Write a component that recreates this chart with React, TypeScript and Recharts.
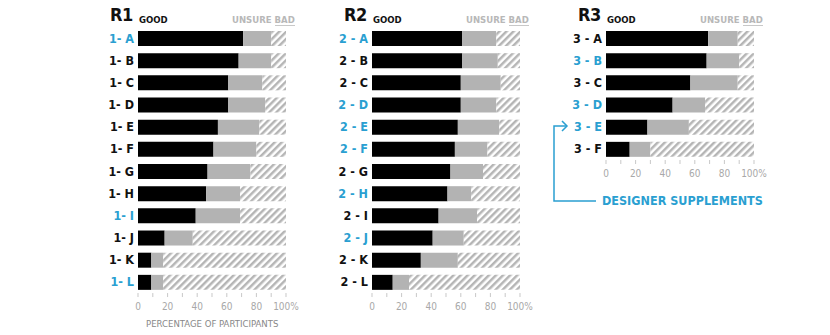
import React from 'react';
import { BarChart, Bar, XAxis, YAxis } from 'recharts';

// R1
const r1Categories = ['1- A', '1- B', '1- C', '1- D', '1- E', '1- F', '1- G', '1- H', '1- I', '1- J', '1- K', '1- L'];
const r1Good = [71, 68, 61, 61, 54, 51, 47, 46, 39, 18, 9, 9];
const r1Unsure = [19, 22, 23, 25, 28, 29, 29, 23, 30, 19, 8, 8];
const r1Bad = [10, 10, 16, 14, 18, 20, 24, 31, 31, 63, 83, 83];
const r1Blue = ['1- A', '1- I', '1- L'];

// R2
const r2Categories = ['2 - A', '2 - B', '2 - C', '2 - D', '2 - E', '2 - F', '2 - G', '2 - H', '2 - I', '2 - J', '2 - K', '2 - L'];
const r2Good = [61, 61, 60, 60, 58, 56, 53, 51, 45, 41, 33, 14];
const r2Unsure = [23, 24, 27, 24, 28, 22, 22, 16, 26, 21, 25, 11];
const r2Bad = [16, 15, 13, 16, 14, 22, 25, 33, 29, 38, 42, 75];
const r2Blue = ['2 - A', '2 - D', '2 - E', '2 - F', '2 - H', '2 - J'];

// R3
const r3Categories = ['3 - A', '3 - B', '3 - C', '3 - D', '3 - E', '3 - F'];
const r3Good = [69, 68, 57, 45, 28, 16];
const r3Unsure = [20, 22, 32, 22, 28, 14];
const r3Bad = [11, 10, 11, 33, 44, 70];
const r3Blue = ['3 - B', '3 - D', '3 - E'];

const xTicks = [0, 10, 20, 30, 40, 50, 60, 70, 80, 90, 100];

const BLUE = '#2a9fd1';
const GRAY = '#b3b3b3';
const FONT = "'DejaVu Sans Condensed', 'DejaVu Sans', sans-serif";
const ROW = 22.17;

const Panel = ({ left, title, cats, good, unsure, bad, blue, barStart }: any) => {
    const data = cats.map((c: string, i: number) => ({
        name: c,
        good: good[i],
        unsure: unsure[i],
        bad: bad[i],
    }));
    const plotH = cats.length * ROW;
    const yw = barStart - left;
    const width = yw + 148 + 16;
    return (
        <div style={{ position: 'absolute', left, top: 0 }}>
            <BarChart
                width={width}
                height={27 + plotH + 30}
                data={data}
                layout="vertical"
                margin={{ top: 27, right: 16, bottom: 0, left: 0 }}
                barSize={15}
            >
                <XAxis
                    type="number"
                    domain={[0, 100]}
                    ticks={xTicks}
                    interval={0}
                    axisLine={false}
                    tickSize={4}
                    tickMargin={6}
                    height={30}
                    tickLine={{ stroke: '#c8c8c8' }}
                    tickFormatter={(v: number) => (v % 20 === 0 ? (v === 100 ? '100%' : String(v)) : '')}
                    tick={{ fill: '#a8a8a8', fontSize: 10, fontFamily: FONT }}
                />
                <YAxis
                    type="category"
                    dataKey="name"
                    width={yw}
                    axisLine={false}
                    tickLine={false}
                    tickSize={0}
                    tickMargin={4}
                    interval={0}
                    tick={(p: any) => (
                        <text
                            x={p.x}
                            y={p.y}
                            dy={4.5}
                            textAnchor="end"
                            fontFamily={FONT}
                            fontWeight="bold"
                            fontSize={12.5}
                            fill={blue.includes(p.payload.value) ? BLUE : '#111'}
                        >
                            {p.payload.value}
                        </text>
                    )}
                />
                <Bar dataKey="good" stackId="a" fill="#000" isAnimationActive={false} />
                <Bar dataKey="unsure" stackId="a" fill={GRAY} isAnimationActive={false} />
                <Bar dataKey="bad" stackId="a" fill="url(#hatch)" isAnimationActive={false} />
            </BarChart>
            <div
                style={{
                    position: 'absolute',
                    left: yw - 28,
                    top: 4,
                    fontFamily: FONT,
                    fontWeight: 'bold',
                    fontSize: 18,
                    color: '#111',
                    letterSpacing: -0.5,
                }}
            >
                {title}
            </div>
            <div
                style={{
                    position: 'absolute',
                    left: yw + 1,
                    top: 14,
                    fontFamily: FONT,
                    fontWeight: 'bold',
                    fontSize: 9.5,
                    color: '#111',
                }}
            >
                GOOD
            </div>
            <div
                style={{
                    position: 'absolute',
                    left: yw + 94,
                    top: 14,
                    fontFamily: FONT,
                    fontWeight: 'bold',
                    fontSize: 9.5,
                    color: '#b8b8b8',
                    whiteSpace: 'nowrap',
                }}
            >
                UNSURE{' '}
                <span style={{ borderBottom: '1.5px solid #c8c8c8' }}>BAD</span>
            </div>
        </div>
    );
};

export default function App() {
    return (
        <div style={{ position: 'absolute', left: 0, top: 0, width: 830, height: 335, background: '#fff' }}>
            <svg width={0} height={0} style={{ position: 'absolute' }}>
                <defs>
                    <pattern
                        id="hatch"
                        patternUnits="userSpaceOnUse"
                        width={5}
                        height={5}
                        patternTransform="rotate(45)"
                    >
                        <rect x={0} y={0} width={5} height={5} fill="#fff" />
                        <rect x={0} y={0} width={2.5} height={5} fill="#b5b5b5" />
                    </pattern>
                </defs>
            </svg>
            <Panel left={90} barStart={138} title="R1" cats={r1Categories} good={r1Good} unsure={r1Unsure} bad={r1Bad} blue={r1Blue} />
            <Panel left={324} barStart={372} title="R2" cats={r2Categories} good={r2Good} unsure={r2Unsure} bad={r2Bad} blue={r2Blue} />
            <Panel left={558} barStart={606} title="R3" cats={r3Categories} good={r3Good} unsure={r3Unsure} bad={r3Bad} blue={r3Blue} />
            <div
                style={{
                    position: 'absolute',
                    left: 146,
                    top: 318,
                    fontFamily: FONT,
                    fontSize: 9.5,
                    color: '#888',
                    whiteSpace: 'nowrap',
                }}
            >
                PERCENTAGE OF PARTICIPANTS
            </div>
            <svg width={60} height={90} style={{ position: 'absolute', left: 548, top: 118 }}>
                <polyline points="19,8 6,8 6,83 48,83" fill="none" stroke={BLUE} strokeWidth={1.5} />
                <polyline points="14,3 19,8 14,13" fill="none" stroke={BLUE} strokeWidth={1.5} />
            </svg>
            <div
                style={{
                    position: 'absolute',
                    left: 602,
                    top: 193,
                    fontFamily: FONT,
                    fontWeight: 'bold',
                    fontSize: 12.5,
                    color: BLUE,
                    whiteSpace: 'nowrap',
                }}
            >
                DESIGNER SUPPLEMENTS
            </div>
        </div>
    );
}
